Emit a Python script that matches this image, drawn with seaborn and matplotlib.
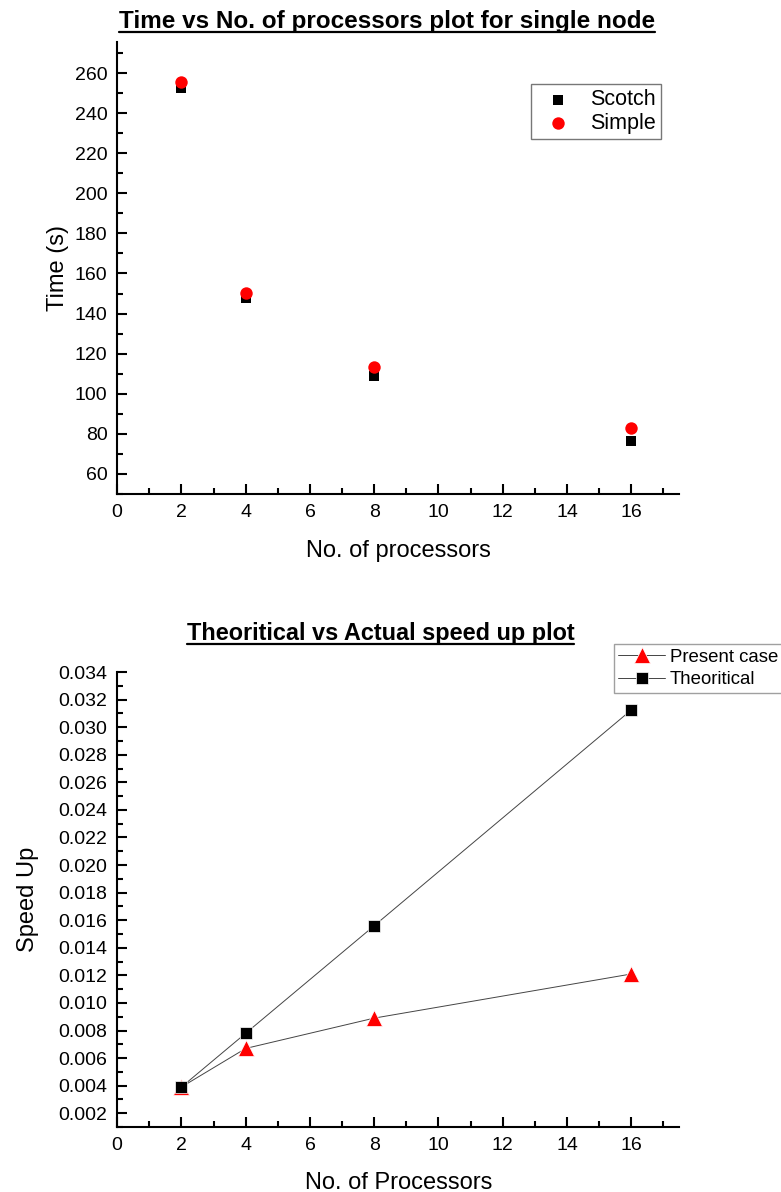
"""
Time and speed-up plots for the processor scaling runs.
"""

import pandas as pd
import numpy as np
import matplotlib
matplotlib.use('Agg')
import matplotlib.pyplot as plt
from matplotlib.lines import Line2D
from matplotlib.ticker import MultipleLocator, FormatStrFormatter
import seaborn as sns

# --- data ---
processors = [2, 4, 8, 16]
time_scotch = [252.5, 148.0, 108.8, 76.5]
time_simple = [255.5, 150.5, 113.3, 83.0]

speedup_present = [0.0039, 0.0067, 0.0089, 0.0121]
speedup_theoritical = [0.0039, 0.0078, 0.0156, 0.03125]

sns.set_style('ticks')
plt.rcParams['font.family'] = ['Liberation Sans', 'DejaVu Sans']
plt.rcParams['axes.linewidth'] = 1.5
for key in ['text.color', 'axes.labelcolor', 'xtick.color', 'ytick.color', 'axes.edgecolor']:
    plt.rcParams[key] = 'black'


def style_axis(ax):
    sns.despine(ax=ax)
    ax.tick_params(which='both', direction='in', width=1.5, labelsize=14, pad=7)
    ax.tick_params(which='major', length=7)
    ax.tick_params(which='minor', length=4)
    ax.set_xlim(0, 17.5)
    ax.xaxis.set_major_locator(MultipleLocator(2))
    ax.xaxis.set_minor_locator(MultipleLocator(1))


def underline_title(fig, ax):
    fig.canvas.draw()
    renderer = fig.canvas.get_renderer()
    bb = ax.title.get_window_extent(renderer)
    inv = fig.transFigure.inverted()
    (x0, y0), (x1, _) = inv.transform([(bb.x0, bb.y0 + 1), (bb.x1, bb.y0 + 1)])
    fig.add_artist(Line2D([x0, x1], [y0, y0], transform=fig.transFigure,
                          color='black', linewidth=1.6))


fig = plt.figure(figsize=(7.81, 11.92), dpi=100)
ax1 = fig.add_axes([0.150, 0.5856, 0.720, 0.3792])
ax2 = fig.add_axes([0.150, 0.0545, 0.720, 0.3817])

# --- top: time vs processors ---
df_time = pd.DataFrame({'procs': processors, 'scotch': time_scotch, 'simple': time_simple})
sns.scatterplot(data=df_time, x='procs', y='scotch', ax=ax1, marker='s', color='black',
                s=60, linewidth=0, label='Scotch', zorder=3)
sns.scatterplot(data=df_time, x='procs', y='simple', ax=ax1, marker='o', color='red',
                s=80, linewidth=0, label='Simple', zorder=4)
style_axis(ax1)
ax1.set_ylim(50, 275.5)
ax1.yaxis.set_minor_locator(MultipleLocator(10))
ax1.set_yticks(np.arange(60, 261, 20))
ax1.set_xlabel('No. of processors', fontsize=17, labelpad=14)
ax1.set_ylabel('Time (s)', fontsize=17, labelpad=4)
ax1.set_title('Time vs No. of processors plot for single node', fontsize=17.5,
              fontweight='bold', pad=10, x=0.480)
leg1 = ax1.legend(loc='upper right', bbox_to_anchor=(0.968, 0.907), borderaxespad=0,
                  fontsize=15.5, frameon=True, fancybox=False, edgecolor='#555555',
                  handlelength=2.0, handletextpad=0.5, borderpad=0.25, labelspacing=0.1)
leg1.get_frame().set_linewidth(1.0)

# --- bottom: speed up ---
df_speed = pd.DataFrame({'procs': processors, 'present': speedup_present,
                         'theoritical': speedup_theoritical})
sns.lineplot(data=df_speed, x='procs', y='present', ax=ax2, color='#444444', linewidth=0.7,
             marker='^', markersize=11, markerfacecolor='red', markeredgecolor='white',
             markeredgewidth=0.5, label='Present case')
sns.lineplot(data=df_speed, x='procs', y='theoritical', ax=ax2, color='#444444', linewidth=0.7,
             marker='s', markersize=8, markerfacecolor='black', markeredgecolor='white',
             markeredgewidth=0.5, label='Theoritical')
style_axis(ax2)
ax2.set_ylim(0.001, 0.034)
ax2.yaxis.set_minor_locator(MultipleLocator(0.001))
ax2.set_yticks(np.arange(0.002, 0.0341, 0.002))
ax2.yaxis.set_major_formatter(FormatStrFormatter('%.3f'))
ax2.set_xlabel('No. of Processors', fontsize=17, labelpad=13)
ax2.set_ylabel('Speed Up', fontsize=17, labelpad=14)
ax2.set_title('Theoritical vs Actual speed up plot', fontsize=16.9,
              fontweight='bold', pad=23, x=0.468)
leg2 = ax2.legend(loc='upper right', bbox_to_anchor=(1.002, 1 - 644 / 1192),
                  bbox_transform=fig.transFigure, borderaxespad=0, fontsize=13.4,
                  frameon=True, fancybox=False, edgecolor='#888888',
                  handlelength=2.5, handletextpad=0.25, borderpad=0.25, labelspacing=0.3)
leg2.get_frame().set_linewidth(1.0)

underline_title(fig, ax1)
underline_title(fig, ax2)

fig.savefig('out.png', dpi=100)
plt.close(fig)
